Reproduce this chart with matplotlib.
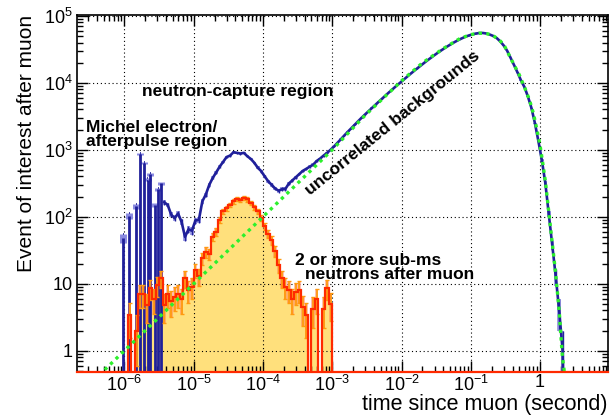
import numpy as np
import matplotlib
matplotlib.use("Agg")
import matplotlib.pyplot as plt
from matplotlib.ticker import LogLocator, NullFormatter, FixedLocator, FixedFormatter

plt.rcParams['font.family'] = ['Liberation Sans', 'DejaVu Sans']
plt.rcParams['mathtext.fontset'] = 'custom'
plt.rcParams['mathtext.rm'] = 'Liberation Sans'
plt.rcParams['mathtext.it'] = 'Liberation Sans:italic'
plt.rcParams['mathtext.bf'] = 'Liberation Sans:bold'

# ---------------- data ----------------
BINS_PER_DECADE = 20

# "2 or more sub-ms neutrons after muon" histogram (starts at 1e-6 s)
orange_start = 1.0e-6
orange_n = [0, 3.4, 0, 2, 7, 7, 4.8, 8.6, 6, 9.5,
            12, 4.8, 7, 5.5, 6.4, 7, 6, 12, 8, 9,
            16, 13, 24, 30, 28, 50, 60, 90, 120, 135,
            150, 170, 185, 178, 190, 182, 160, 140, 120, 97,
            72, 56, 45, 31, 19, 12, 9, 8, 6, 7.6,
            8, 4.5, 3.4, 0, 4.2, 6, 0, 4.2, 8.6, 5]

# all events: isolated early spikes (Michel electron / afterpulse)
spike_t = [0.97e-6, 1.18e-6, 1.49e-6, 1.70e-6, 1.94e-6, 2.18e-6, 2.37e-6,
           2.77e-6, 3.10e-6, 3.39e-6]
spike_n = [48, 102, 144, 880, 630, 360, 430, 150, 256, 315]

# all events: continuous histogram (starts at 3.55e-6 s)
blue_start = 3.548e-6
blue_n = [165, 150, 108, 95, 112, 84, 50, 65, 62, 88,
          90, 170, 215, 300, 380, 460, 560, 660, 780, 820,
          920, 900, 880, 900, 800, 730, 640, 540, 480, 400,
          340, 300, 265, 245, 258, 262, 315, 350, 390, 435,
          485, 520, 560, 600, 680, 740, 820, 900, 1000,
          1120, 1270, 1440, 1640, 1860, 2100, 2370, 2680, 3020, 3380,
          3780, 4230, 4720, 5270, 5870, 6550, 7300, 8100, 9000, 9950,
          11000, 12200, 13500, 14900, 16400, 18000, 19800, 21700, 23700, 25900,
          28200, 30600, 33100, 35700, 38400, 41100, 43800, 46400, 48900, 51100,
          53000, 54500, 55400, 55500, 54500, 52500, 50000, 46500, 41500, 36000,
          30000, 23500, 18300, 14200, 10800, 8600, 6200, 4200, 2500, 1350,
          700, 320, 110, 38, 13, 4, 1, 0]

# uncorrelated background fit curve
green_t = [2.5e-7, 1e-6, 1e-5, 1e-4, 1e-3, 3e-3, 1e-2, 2e-2, 4e-2, 7e-2,
           0.1, 0.13, 0.16, 0.2, 0.25, 0.3, 0.4, 0.5, 0.6, 0.7,
           0.8, 0.9, 1.0, 1.1, 1.2, 1.3, 1.4, 1.5, 1.6, 1.7,
           1.8, 1.9, 2.0, 2.1, 2.2, 2.26]
green_n = [0.25, 1.0, 10, 100, 1000, 3300, 10700, 19800, 32500, 46000,
           52500, 55000, 55000, 52000, 45000, 37000, 20500, 13200, 8400, 5600,
           3500, 2000, 1150, 600, 320, 150, 75, 40, 22, 12,
           6.5, 3.5, 1.6, 0.8, 0.55, 0.45]

x_ticks = [1e-6, 1e-5, 1e-4, 1e-3, 1e-2, 1e-1, 1]
x_labels = ['$10^{-6}$', '$10^{-5}$', '$10^{-4}$', '$10^{-3}$',
            '$10^{-2}$', '$10^{-1}$', '1']
y_ticks = [1, 10, 100, 1e3, 1e4, 1e5]
y_labels = ['1', '10', '$10^{2}$', '$10^{3}$', '$10^{4}$', '$10^{5}$']

# ---------------- figure ----------------
W, H = 616, 415
fig = plt.figure(figsize=(W / 100, H / 100), dpi=100)
ax = fig.add_axes([77 / W, 1 - 371.7 / H, (607.7 - 77) / W, (371.7 - 15) / H])
ax.set_xscale('log')
ax.set_yscale('log')
ax.set_xlim(2.07e-7, 9.45)
ax.set_ylim(0.486, 1.03e5)
FLOOR = 1e-3

# orange histogram
o = np.array(orange_n, float)
o_edges = orange_start * 10 ** (np.arange(len(o) + 1) / BINS_PER_DECADE)
o_err = np.sqrt(o)
ax.stairs(np.where(o > 0, o, FLOOR), o_edges, baseline=FLOOR, fill=True,
          color='#ffe07c', zorder=1, linewidth=0)
m = o > 0
ax.bar(o_edges[:-1][m], (2 * o_err)[m], bottom=np.maximum(o - o_err, FLOOR)[m],
       width=np.diff(o_edges)[m], align='edge', color='#ff6f50', alpha=0.45,
       linewidth=0, zorder=3.2)
o_c = np.sqrt(o_edges[:-1] * o_edges[1:])
ax.errorbar(o_c[m], o[m], yerr=o_err[m], fmt='none', ecolor='#ff9a10',
            elinewidth=1.3, capsize=1.5, capthick=1.0, zorder=3.4)

# blue spikes
st = np.array(spike_t)
sn = np.array(spike_n, float)
ax.errorbar(st, sn, yerr=np.sqrt(sn), fmt='none', ecolor='#8a8ae0',
            elinewidth=5, zorder=2.6)
ax.vlines(st, FLOOR, sn, color='#20209a', lw=2.0, zorder=2.8)
ax.hlines(sn + np.sqrt(sn), st / 1.012, st * 1.012, color='#20209a', lw=1.2, zorder=2.8)
ax.hlines(sn - np.sqrt(sn), st / 1.012, st * 1.012, color='#20209a', lw=1.2, zorder=2.8)

# blue continuous histogram (drawn through bin centres)
b = np.array(blue_n, float)
b_edges = blue_start * 10 ** (np.arange(len(b) + 1) / BINS_PER_DECADE)
b_c = np.sqrt(b_edges[:-1] * b_edges[1:])
b_err = np.sqrt(b)
mb = b > 0
ax.bar(b_edges[:-1][mb], (2 * b_err)[mb], bottom=np.maximum(b - b_err, FLOOR)[mb],
       width=np.diff(b_edges)[mb], align='edge', color='#8a8ae0', alpha=0.8,
       linewidth=0, zorder=2.6)
ax.errorbar(b_c[mb], b[mb], yerr=b_err[mb], fmt='none', ecolor='#20209a',
            elinewidth=1.0, zorder=2.7)
ax.plot(b_c, np.where(b > 0, b, FLOOR), color='#20209a', lw=1.9, zorder=2.9)

# orange outline on top of blue
ax.stairs(np.where(o > 0, o, FLOOR), o_edges, baseline=FLOOR, color='#ff2a00',
          lw=1.6, zorder=3.6)

# green background curve
ax.plot(green_t, green_n, color='#2cf02c', lw=2.4, ls=(0, (1, 1.3)), zorder=6,
        solid_capstyle='butt')

# ---------------- axes styling ----------------
ax.xaxis.set_major_locator(FixedLocator(x_ticks))
ax.xaxis.set_major_formatter(FixedFormatter(x_labels))
ax.yaxis.set_major_locator(FixedLocator(y_ticks))
ax.yaxis.set_major_formatter(FixedFormatter(y_labels))
ax.xaxis.set_minor_locator(LogLocator(base=10, subs=np.arange(2, 10), numticks=100))
ax.yaxis.set_minor_locator(LogLocator(base=10, subs=np.arange(2, 10), numticks=100))
ax.xaxis.set_minor_formatter(NullFormatter())
ax.yaxis.set_minor_formatter(NullFormatter())
ax.tick_params(which='both', direction='in', top=True, right=True, width=1.0,
               colors='black', labelsize=13)
ax.tick_params(which='major', length=8)
ax.tick_params(which='minor', length=4)
ax.tick_params(axis='x', which='major', pad=2)
ax.tick_params(axis='y', which='major', pad=3)
ax.set_axisbelow(False)
ax.grid(True, which='major', color='black', ls=(0, (1, 2.5)), lw=0.8, zorder=2.5)
for s in ax.spines.values():
    s.set_linewidth(1.2)
    s.set_zorder(7)
ax.spines['bottom'].set_color('#ff2a00')
ax.spines['bottom'].set_linewidth(1.6)

# ---------------- text ----------------
def ft(px, py, s, **kw):
    fig.text(px / W, 1 - py / H, s, **kw)

ft(608, 410, 'time since muon (second)', ha='right', va='baseline', fontsize=15.5)
ft(27, 15, 'Event of interest after muon', ha='center', va='top', rotation=90,
   fontsize=15)

bold = dict(fontweight='bold', fontsize=12.5, ha='left', va='baseline', zorder=8)
ft(141.7, 95.7, 'neutron-capture region', **bold)
ft(86, 131.7, 'Michel electron/', **bold)
ft(86, 146, 'afterpulse region', **bold)
ft(295, 265, '2 or more sub-ms', **bold)
ft(305, 279, 'neutrons after muon', **bold)
ft(393, 123, 'uncorrelated backgrounds', fontweight='bold', fontsize=12.5,
   ha='center', va='center', rotation=39, rotation_mode='anchor', zorder=8)

fig.savefig('out.png', dpi=100)
